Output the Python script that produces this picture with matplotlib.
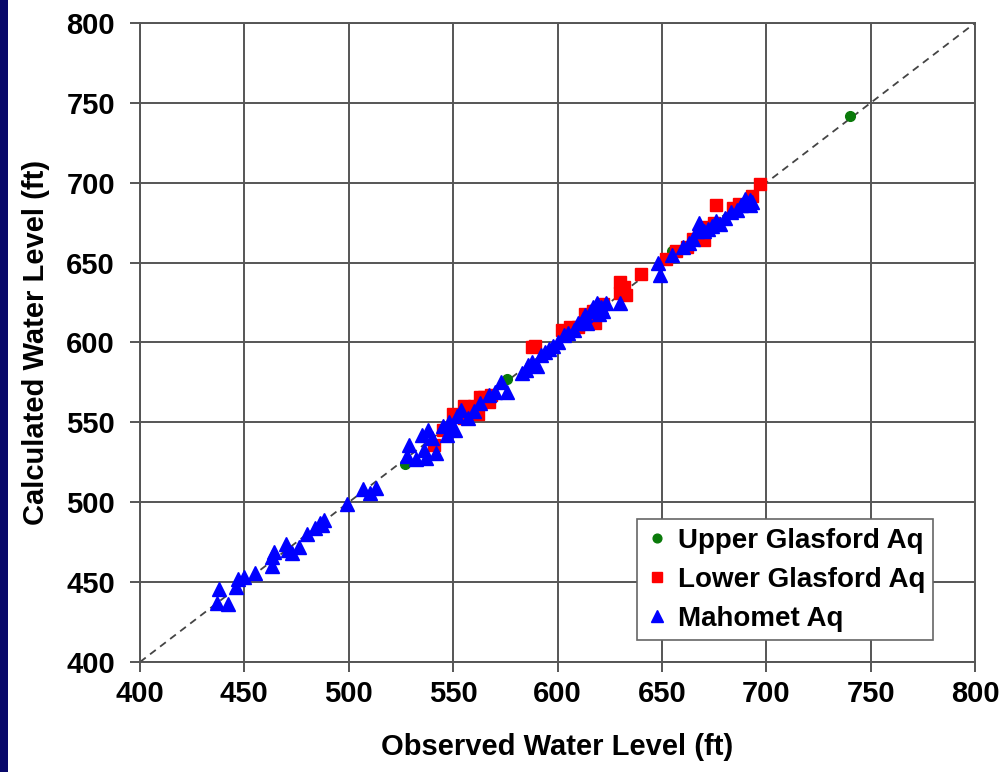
import matplotlib
matplotlib.use("Agg")
import matplotlib.pyplot as plt
from matplotlib.patches import Rectangle

plt.rcParams['font.family'] = ['Liberation Sans', 'DejaVu Sans']

# Upper Glasford Aquifer (observed, calculated)
upper_obs = [740, 655, 576, 527]
upper_calc = [742, 657, 577, 524]

# Lower Glasford Aquifer
lower_obs = [697, 693, 687, 676, 684, 675, 672, 668, 670, 665, 662, 657, 652, 640,
             632, 630, 630, 633, 622, 617, 613, 618, 610, 606, 602, 589, 588, 565,
             567, 568, 562, 560, 555, 550, 555, 541, 545, 563]
lower_calc = [699, 692, 687, 686, 684, 675, 672, 668, 664, 665, 660, 657, 652, 643,
              635, 638, 631, 630, 624, 620, 618, 612, 610, 610, 608, 598, 597, 566,
              563, 567, 555, 560, 560, 555, 553, 536, 545, 566]

# Mahomet Aquifer
mah_obs = [437, 438, 442, 446, 447, 450, 455, 463, 463, 464, 470, 471, 473, 476,
           480, 484, 487, 486, 488, 499, 507, 510, 513,
           528, 529, 532, 535, 536, 537, 538, 540, 542, 545, 547, 548, 550, 551,
           552, 554, 557, 560, 563, 567, 570, 573, 576, 583, 585, 586, 588, 590,
           592, 594, 596, 598, 600, 603, 605, 608, 610, 612, 613, 614, 616, 617,
           619, 620, 621, 622, 623, 630, 648, 649, 655, 660, 663, 665, 667, 668,
           670, 672, 674, 676, 678, 680, 683, 686, 688, 690, 692, 692, 693]
mah_calc = [437, 446, 436, 447, 452, 453, 456, 460, 466, 469, 474, 470, 468, 472,
            480, 484, 486, 487, 489, 499, 508, 506, 509,
            529, 536, 527, 542, 533, 528, 545, 540, 531, 548, 542, 550, 546, 545,
            554, 558, 553, 557, 562, 567, 569, 575, 569, 581, 583, 586, 588, 585,
            592, 594, 596, 598, 600, 605, 606, 608, 612, 615, 617, 612, 620, 622,
            625, 618, 622, 620, 625, 625, 650, 642, 655, 660, 662, 665, 670, 675,
            670, 671, 673, 676, 674, 678, 682, 683, 686, 690, 686, 689, 688]

ticks = [400, 450, 500, 550, 600, 650, 700, 750, 800]

fig = plt.figure(figsize=(10.07, 7.72), dpi=100)
fig.patch.set_facecolor('white')
fig.add_artist(Rectangle((0, 0), 8 / 1007, 1, transform=fig.transFigure,
                         facecolor='#08086a', edgecolor='none'))

ax = fig.add_axes([140 / 1007, 1 - 662 / 772, 835 / 1007, 639 / 772])
ax.set_xlim(400, 800)
ax.set_ylim(400, 800)
ax.set_xticks(ticks)
ax.set_yticks(ticks)
ax.grid(True, color='#555555', linewidth=1.4)
ax.set_axisbelow(True)
for s in ax.spines.values():
    s.set_color('#555555')
    s.set_linewidth(1.4)
ax.tick_params(direction='out', length=7, width=1.4, color='#555555',
               labelsize=21)
ax.tick_params(axis='x', pad=6)
ax.tick_params(axis='y', pad=11)
for lab in ax.get_xticklabels() + ax.get_yticklabels():
    lab.set_fontweight('bold')

ax.plot([400, 800], [400, 800], linestyle=(0, (4, 3)), color='#444444',
        linewidth=1.3, zorder=1)

ax.plot(upper_obs, upper_calc, 'o', color='#0a7a0a', markersize=7,
        linestyle='none', label='Upper Glasford Aq', zorder=3)
ax.plot(lower_obs, lower_calc, 's', color='#ff0000', markersize=8,
        linestyle='none', label='Lower Glasford Aq', zorder=3)
ax.plot(mah_obs, mah_calc, '^', color='#0000ff', markersize=10,
        linestyle='none', label='Mahomet Aq', zorder=4)

ax.set_xlabel('Observed Water Level (ft)', fontsize=21, fontweight='bold', labelpad=18)
ax.set_ylabel('Calculated Water Level (ft)', fontsize=21, fontweight='bold', labelpad=12)

leg = ax.legend(loc='lower right', bbox_to_anchor=(0.95, 0.034), fancybox=False,
                framealpha=1, edgecolor='#666666', prop={'size': 20, 'weight': 'bold'},
                handletextpad=0.35, handlelength=0.8, borderpad=0.3, labelspacing=0.47,
                borderaxespad=0, markerscale=0.9)
leg.get_frame().set_linewidth(1.2)

fig.savefig('out.png', dpi=100)
